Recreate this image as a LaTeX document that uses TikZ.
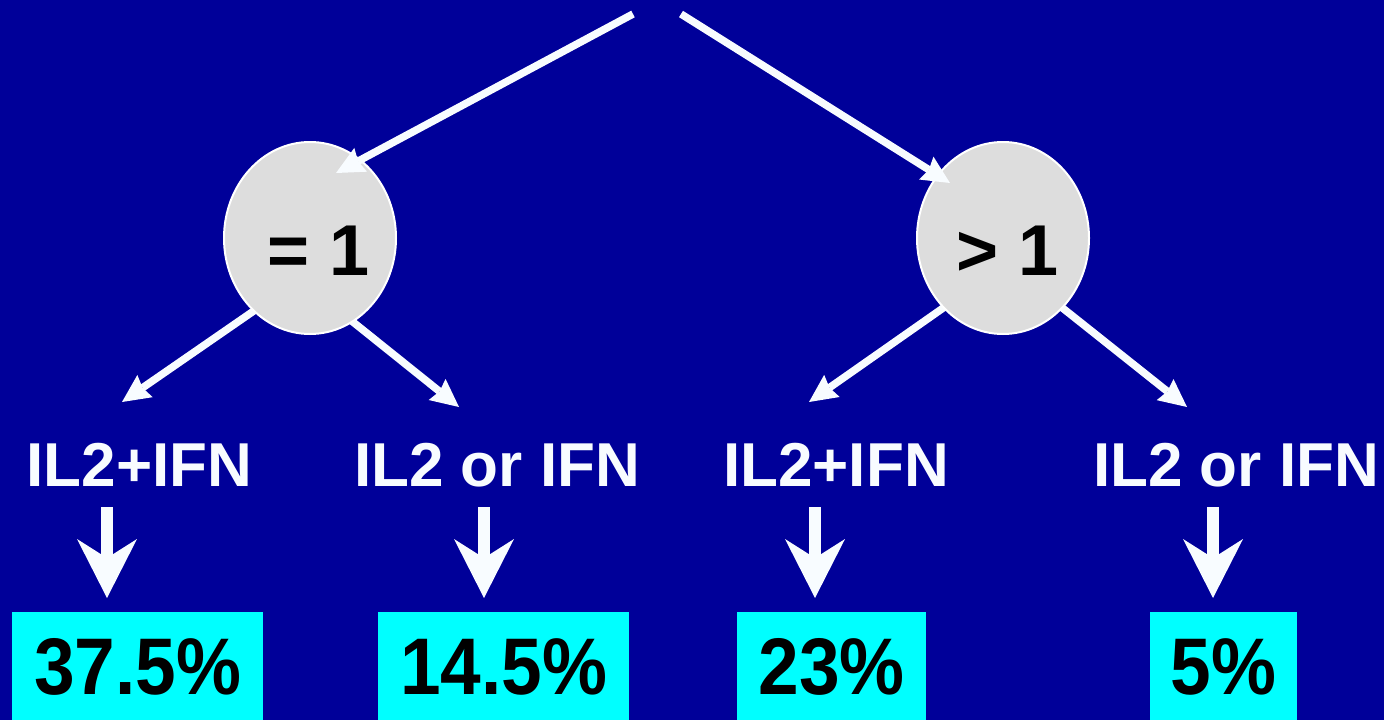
\documentclass[tikz,border=0pt]{standalone}
\usepackage{fontspec}
\usepackage{graphicx}
\setmainfont{Liberation Sans}
\usetikzlibrary{arrows.meta,shapes.geometric}
\definecolor{bgblue}{RGB}{0,0,153}
\definecolor{circgray}{RGB}{221,221,221}
\definecolor{boxcyan}{RGB}{0,255,255}
\definecolor{arrwhite}{RGB}{248,252,255}
\begin{document}
\begin{tikzpicture}[x=1pt,y=-1pt,
  circnode/.style={ellipse, draw=white, line width=2pt, fill=circgray,
    minimum width=172pt, minimum height=192pt, inner sep=0pt},
  circtext/.style={anchor=base, inner sep=0pt, text=black,
    font=\fontsize{72}{72}\selectfont\bfseries},
  lab/.style={anchor=base, inner sep=0pt, text=arrwhite,
    font=\fontsize{62}{62}\selectfont\bfseries},
  pctbox/.style={rectangle, fill=boxcyan, anchor=north west, inner sep=0pt,
    minimum height=110pt, text=black,
    font=\fontsize{73}{73}\selectfont\bfseries},
  conn/.style={draw=arrwhite, line width=7.5pt,
    -{Stealth[length=28pt,width=27pt,inset=3pt,line width=0pt]}},
  downarr/.style={draw=arrwhite, line width=12pt,
    -{Stealth[length=59pt,width=60pt,inset=19pt,line width=0pt]}}
]
\useasboundingbox (0,0) rectangle (1384,720);
\fill[bgblue] (0,0) rectangle (1384,720);

% coordinates
\coordinate (s1) at (633,14);
\coordinate (s2) at (681,14);
\coordinate (t1) at (336,173);
\coordinate (t2) at (950,183);
\coordinate (a1s) at (258,308);
\coordinate (a1e) at (122,402);
\coordinate (a2s) at (348,318);
\coordinate (a2e) at (459,407);
\coordinate (a3s) at (946,306);
\coordinate (a3e) at (809,402);
\coordinate (a4s) at (1060,306);
\coordinate (a4e) at (1187,407);

% lower arrows (behind circles)
\draw[conn] (a1s) -- (a1e);
\draw[conn] (a2s) -- (a2e);
\draw[conn] (a3s) -- (a3e);
\draw[conn] (a4s) -- (a4e);

% circles
\node[circnode] (c1) at (310,238) {};
\node[circnode] (c2) at (1003,238) {};
\node[circtext] (ct1) at (319,275) {= 1};
\node[circtext] (ct2) at (1008,275) {> 1};

% top arrows
\draw[conn] (s1) -- (t1);
\draw[conn] (s2) -- (t2);

% labels
\node[lab] (l1) at (139.5,486) {IL2+IFN};
\node[lab] (l2) at (497,486) {IL2 or IFN};
\node[lab] (l3) at (836,486) {IL2+IFN};
\node[lab] (l4) at (1236,486) {IL2 or IFN};

% boxes
\node[pctbox, minimum width=251pt] (b1) at (12,612) {\scalebox{1}[1.1]{37.5\%}};
\node[pctbox, minimum width=251pt] (b2) at (378,612) {\scalebox{1}[1.1]{14.5\%}};
\node[pctbox, minimum width=189pt] (b3) at (737,612) {\scalebox{1}[1.1]{23\%}};
\node[pctbox, minimum width=147pt] (b4) at (1150,612) {\scalebox{1}[1.1]{5\%}};

% down arrows
\coordinate (d1a) at (107,507);
\coordinate (d1b) at (107,598);
\coordinate (d2a) at (484,507);
\coordinate (d2b) at (484,598);
\coordinate (d3a) at (815,507);
\coordinate (d3b) at (815,598);
\coordinate (d4a) at (1213,507);
\coordinate (d4b) at (1213,598);
\draw[downarr] (d1a) -- (d1b);
\draw[downarr] (d2a) -- (d2b);
\draw[downarr] (d3a) -- (d3b);
\draw[downarr] (d4a) -- (d4b);
\end{tikzpicture}
\end{document}
